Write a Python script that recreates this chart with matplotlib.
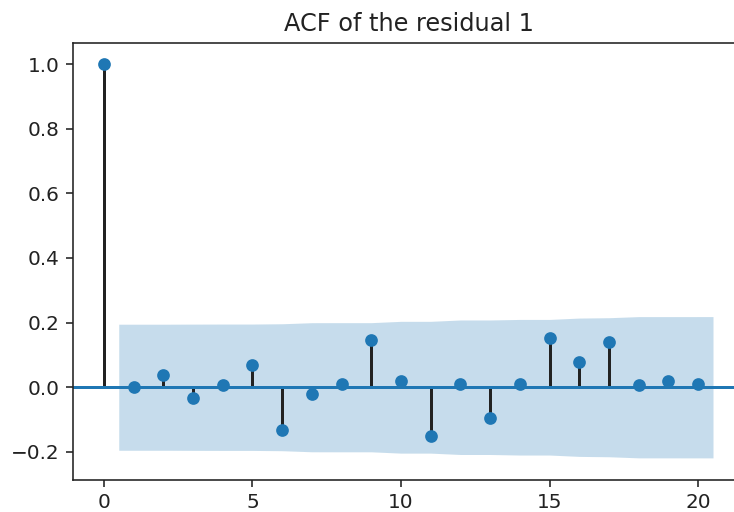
import numpy as np
import matplotlib
matplotlib.use("Agg")
import matplotlib.pyplot as plt

lags = list(range(0, 21))
acf_vals = [1.0, 0.0, 0.037, -0.033, 0.006, 0.068, -0.131, -0.02, 0.011, 0.147,
            0.019, -0.151, 0.011, -0.094, 0.011, 0.153, 0.078, 0.14, 0.006, 0.019, 0.011]
# half-width of the confidence band for lags 1..20
band = [0.195, 0.195, 0.1953, 0.1955, 0.1955, 0.1964, 0.1997, 0.1998, 0.1998, 0.2039,
        0.2039, 0.2081, 0.2081, 0.2098, 0.2098, 0.2140, 0.2151, 0.2185, 0.2185, 0.2186]
title = "ACF of the residual 1"

s = 1.18
plt.rcParams.update({
    "font.size": 10 * s,
    "axes.titlesize": 12 * s,
    "xtick.labelsize": 10 * s,
    "ytick.labelsize": 10 * s,
    "axes.linewidth": 0.8 * s,
    "xtick.major.width": 0.8 * s,
    "ytick.major.width": 0.8 * s,
    "xtick.major.size": 3.5 * s,
    "ytick.major.size": 3.5 * s,
    "axes.edgecolor": "#222222",
    "text.color": "#222222",
    "xtick.color": "#222222",
    "ytick.color": "#222222",
})

dpi = 122
fig = plt.figure(figsize=(734 / dpi, 512 / dpi), dpi=dpi)
ax = fig.add_axes([72.7 / 734, 32 / 512, 673 / 734, 437 / 512])

ax.vlines(lags, [0], acf_vals, colors="#222222", lw=1.5 * s)
ax.axhline(color="C0", lw=1.5 * s)
ax.plot(lags, acf_vals, marker="o", markersize=5 * s * 1.1, linestyle="None", color="C0")

bx = np.array(lags[1:], dtype=float)
bx[0] -= 0.5
bx[-1] += 0.5
b = np.array(band)
ax.fill_between(bx, -b, b, alpha=0.25, color="C0", lw=0)

ax.set_xlim(-1.05, 21.6)
ax.set_ylim(-0.287, 1.065)
ax.set_xticks([0, 5, 10, 15, 20])
ax.set_yticks([-0.2, 0.0, 0.2, 0.4, 0.6, 0.8, 1.0])
ax.set_title(title, pad=6 * s)

fig.savefig("out.png", dpi=dpi)
